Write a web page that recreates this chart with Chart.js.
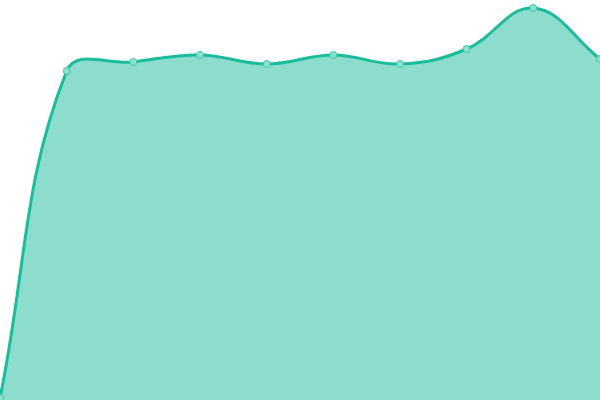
<!DOCTYPE html>
<html>
<head>
<meta charset="utf-8">
<script src="https://cdn.jsdelivr.net/npm/chart.js@4"></script>
<style>
  html, body { margin: 0; padding: 0; background: #fff; }
  #chart { display: block; }
</style>
</head>
<body>
<canvas id="chart" width="600" height="400"></canvas>
<script>
const labels = ['1', '2', '3', '4', '5', '6', '7', '8', '9', '10'];
const values = [2, 329, 338, 345, 336, 345, 336, 351, 392, 341];

const ctx = document.getElementById('chart').getContext('2d');
new Chart(ctx, {
    type: 'line',
    data: {
        labels: labels,
        datasets: [{
            data: values,
            borderColor: '#1abc9c',
            backgroundColor: 'rgba(26, 188, 156, 0.5)',
            borderWidth: 3,
            pointRadius: 3.5,
            pointBorderWidth: 1,
            pointBackgroundColor: '#8ce0cf',
            pointBorderColor: '#3cc7a8',
            fill: 'origin',
            tension: 0.4
        }]
    },
    options: {
        responsive: false,
        animation: false,
        layout: { padding: 0, autoPadding: false },
        plugins: { legend: { display: false }, tooltip: { enabled: false } },
        scales: {
            x: { display: false, offset: false },
            y: { display: false, min: 0, max: 400 }
        }
    }
});
</script>
</body>
</html>
